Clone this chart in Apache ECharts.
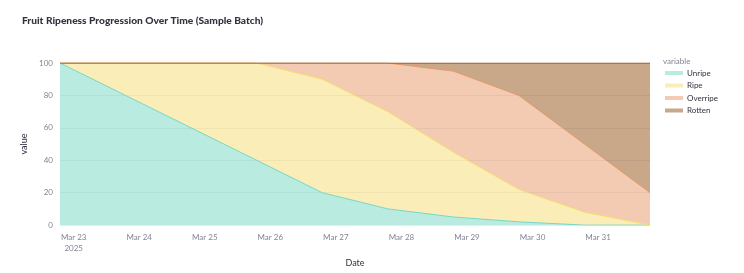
<!DOCTYPE html>
<html><head><meta charset="utf-8">
<script src="https://cdn.jsdelivr.net/npm/echarts@6/dist/echarts.min.js"></script>
<style>html,body{margin:0;padding:0;background:#fff}#c{width:744px;height:273px}</style>
</head><body><div id="c"></div>
<script>
// Sample times (UTC midnight shown in a UTC-5 display => 19:00 previous day)
const dates = ['2025-03-22T19:00:00Z','2025-03-23T19:00:00Z','2025-03-24T19:00:00Z','2025-03-25T19:00:00Z','2025-03-26T19:00:00Z','2025-03-27T19:00:00Z','2025-03-28T19:00:00Z','2025-03-29T19:00:00Z','2025-03-30T19:00:00Z','2025-03-31T19:00:00Z'];
const unripe   = [100, 80, 60, 40, 20, 10, 5, 2, 0, 0];
const ripe     = [0, 20, 40, 60, 70, 60, 40, 20, 8, 0];
const overripe = [0, 0, 0, 0, 10, 30, 50, 58, 42, 20];
const rotten   = [0, 0, 0, 0, 0, 0, 5, 20, 50, 80];
const seriesNames = ['Unripe', 'Ripe', 'Overripe', 'Rotten'];
const yTicks = [0, 20, 40, 60, 80, 100];
const months = ['Jan','Feb','Mar','Apr','May','Jun','Jul','Aug','Sep','Oct','Nov','Dec'];

const colors = ['#76D7C4', '#F7DC6F', '#E59866', '#935116'];
const values = [unripe, ripe, overripe, rotten];
const font = 'Lato, "Noto Sans", sans-serif';

const chart = echarts.init(document.getElementById('c'), null, {renderer: 'canvas'});
chart.setOption({
  useUTC: true,
  animation: false,
  title: {
    text: 'Fruit Ripeness Progression Over Time (Sample Batch)',
    left: 17, top: 11,
    textStyle: {fontFamily: font, fontSize: 10.2, fontWeight: 900, color: '#31333F'}
  },
  graphic: [{
    type: 'text', left: 663, top: 57,
    style: {text: 'variable', fontFamily: font, fontSize: 8, fill: '#808495'}
  }],
  legend: {
    orient: 'vertical', left: 665, top: 68, padding: 0,
    icon: 'rect', itemWidth: 18, itemHeight: 4, itemGap: 2.5,
    textStyle: {fontFamily: font, fontSize: 8, color: '#31333F', lineHeight: 10, padding: [0,0,0,-1]},
    data: seriesNames.map((n, i) => ({name: n, itemStyle: {color: colors[i], opacity: 0.5}}))
  },
  grid: {left: 60, right: 94, top: 63, bottom: 44, containLabel: false},
  xAxis: {
    type: 'time',
    min: dates[0], max: dates[dates.length - 1],
    minInterval: 86400000, maxInterval: 86400000,
    name: 'Date', nameLocation: 'middle', nameGap: 32,
    nameTextStyle: {fontFamily: font, fontSize: 9, color: '#31333F'},
    axisLine: {show: false}, axisTick: {show: false},
    splitLine: {show: false},
    axisLabel: {
      fontFamily: font, fontSize: 8, color: '#808495', margin: 7, lineHeight: 11,
      showMinLabel: false, showMaxLabel: false,
      formatter: function (v, idx) {
        const d = new Date(v);
        const s = months[d.getUTCMonth()] + ' ' + d.getUTCDate();
        return (d.getUTCDate() === 23) ? s + '\n' + d.getUTCFullYear() : s;
      }
    }
  },
  yAxis: {
    type: 'value', min: yTicks[0], max: yTicks[yTicks.length - 1], interval: 20,
    name: 'value', nameLocation: 'middle', nameGap: 27,
    nameTextStyle: {fontFamily: font, fontSize: 9, color: '#31333F'},
    axisLine: {show: false}, axisTick: {show: false},
    axisLabel: {fontFamily: font, fontSize: 8, color: '#808495', margin: 7},
    splitLine: {lineStyle: {color: '#E6EAF1', width: 1}}
  },
  series: seriesNames.map((n, i) => ({
    name: n, type: 'line', stack: 'total', symbol: 'none', showSymbol: false,
    data: dates.map((d, k) => [d, values[i][k]]),
    lineStyle: {color: colors[i], width: 1},
    itemStyle: {color: colors[i]},
    areaStyle: {color: colors[i], opacity: 0.5}
  }))
});
</script></body></html>
